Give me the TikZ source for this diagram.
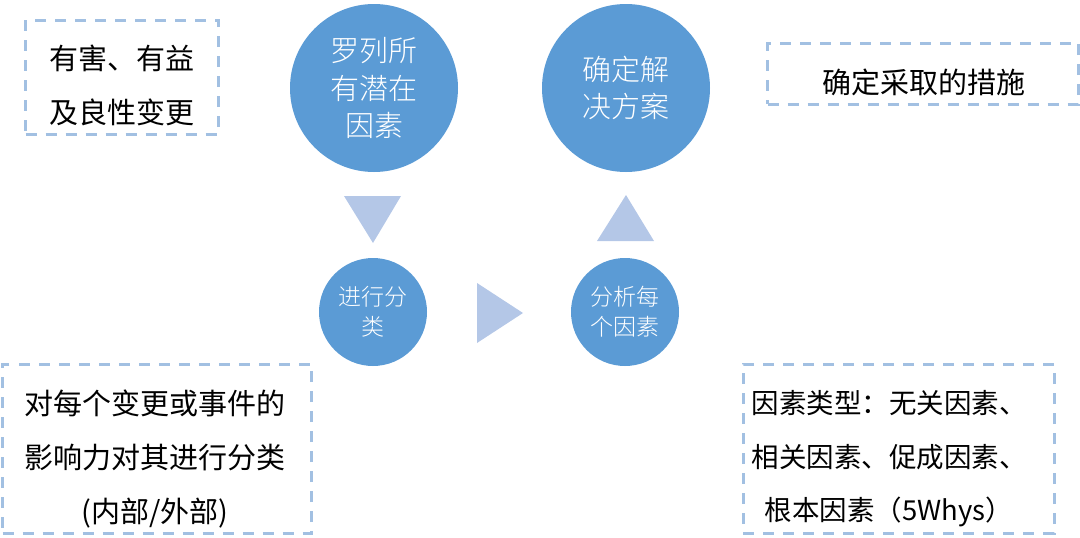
\documentclass[tikz,border=0pt]{standalone}
\usepackage{fontspec}
\setmainfont{Noto Sans CJK SC}
\newfontfamily\lightcjk{Noto Sans CJK SC Light}
\usepackage{tikz}
\usetikzlibrary{positioning}
\definecolor{Disc}{HTML}{5B9BD5}
\definecolor{Wedge}{HTML}{B4C7E7}
\definecolor{Frame}{HTML}{A2C0E2}

\begin{document}
\begin{tikzpicture}[x=1pt,y=-1pt,
    bigdot/.style={circle,fill=Disc,minimum size=168,inner sep=0,text=white,align=center,font=\lightcjk\fontsize{29}{37.5}\selectfont},
    smalldot/.style={circle,fill=Disc,minimum size=108,inner sep=0,text=white,align=center,font=\lightcjk\fontsize{23}{30}\selectfont},
    dashbox/.style={draw=Frame,line width=3pt,dash pattern=on 11pt off 9pt,inner sep=0},
    boxtext/.style={align=center,text=black,inner sep=0,font=\fontsize{29}{54}\selectfont}]
    \useasboundingbox (0,0) rectangle (1080,538);

    \node[bigdot] (listall) at (374,88) {罗列所\\有潜在\\因素};
    \node[bigdot] (decide) at (626,88) {确定解\\决方案};
    \node[smalldot] (classify) at (373,312) {进行分\\类};
    \node[smalldot] (analyse) at (625,312) {分析每\\个因素};

    \fill[Wedge] (344,196) -- (401,196) -- (373,243) -- cycle;
    \fill[Wedge] (477,283) -- (523,313) -- (477,343) -- cycle;
    \fill[Wedge] (597,241) -- (654,241) -- (626,195) -- cycle;

    \node[dashbox,minimum width=193,minimum height=114] (harmbox) at (122,77) {};
    \node[boxtext] (harmtxt) at (122,85) {有害、有益\\及良性变更};

    \node[dashbox,minimum width=311,minimum height=61] (actbox) at (923,73.5) {};
    \node[boxtext] (acttxt) at (924,82) {确定采取的措施};

    \node[dashbox,minimum width=309,minimum height=169] (impactbox) at (157,448.5) {};
    \node[boxtext] (impacttxt) at (155,459) {对每个变更或事件的\\影响力对其进行分类\\(内部/外部)};

    \node[dashbox,minimum width=311,minimum height=169] (typebox) at (898.5,448.5) {};
    \node[boxtext,font=\fontsize{27.5}{53.5}\selectfont] (typetxt) at (889,459) {因素类型：无关因素、\\相关因素、促成因素、\\根本因素（5Whys）};
\end{tikzpicture}
\end{document}
